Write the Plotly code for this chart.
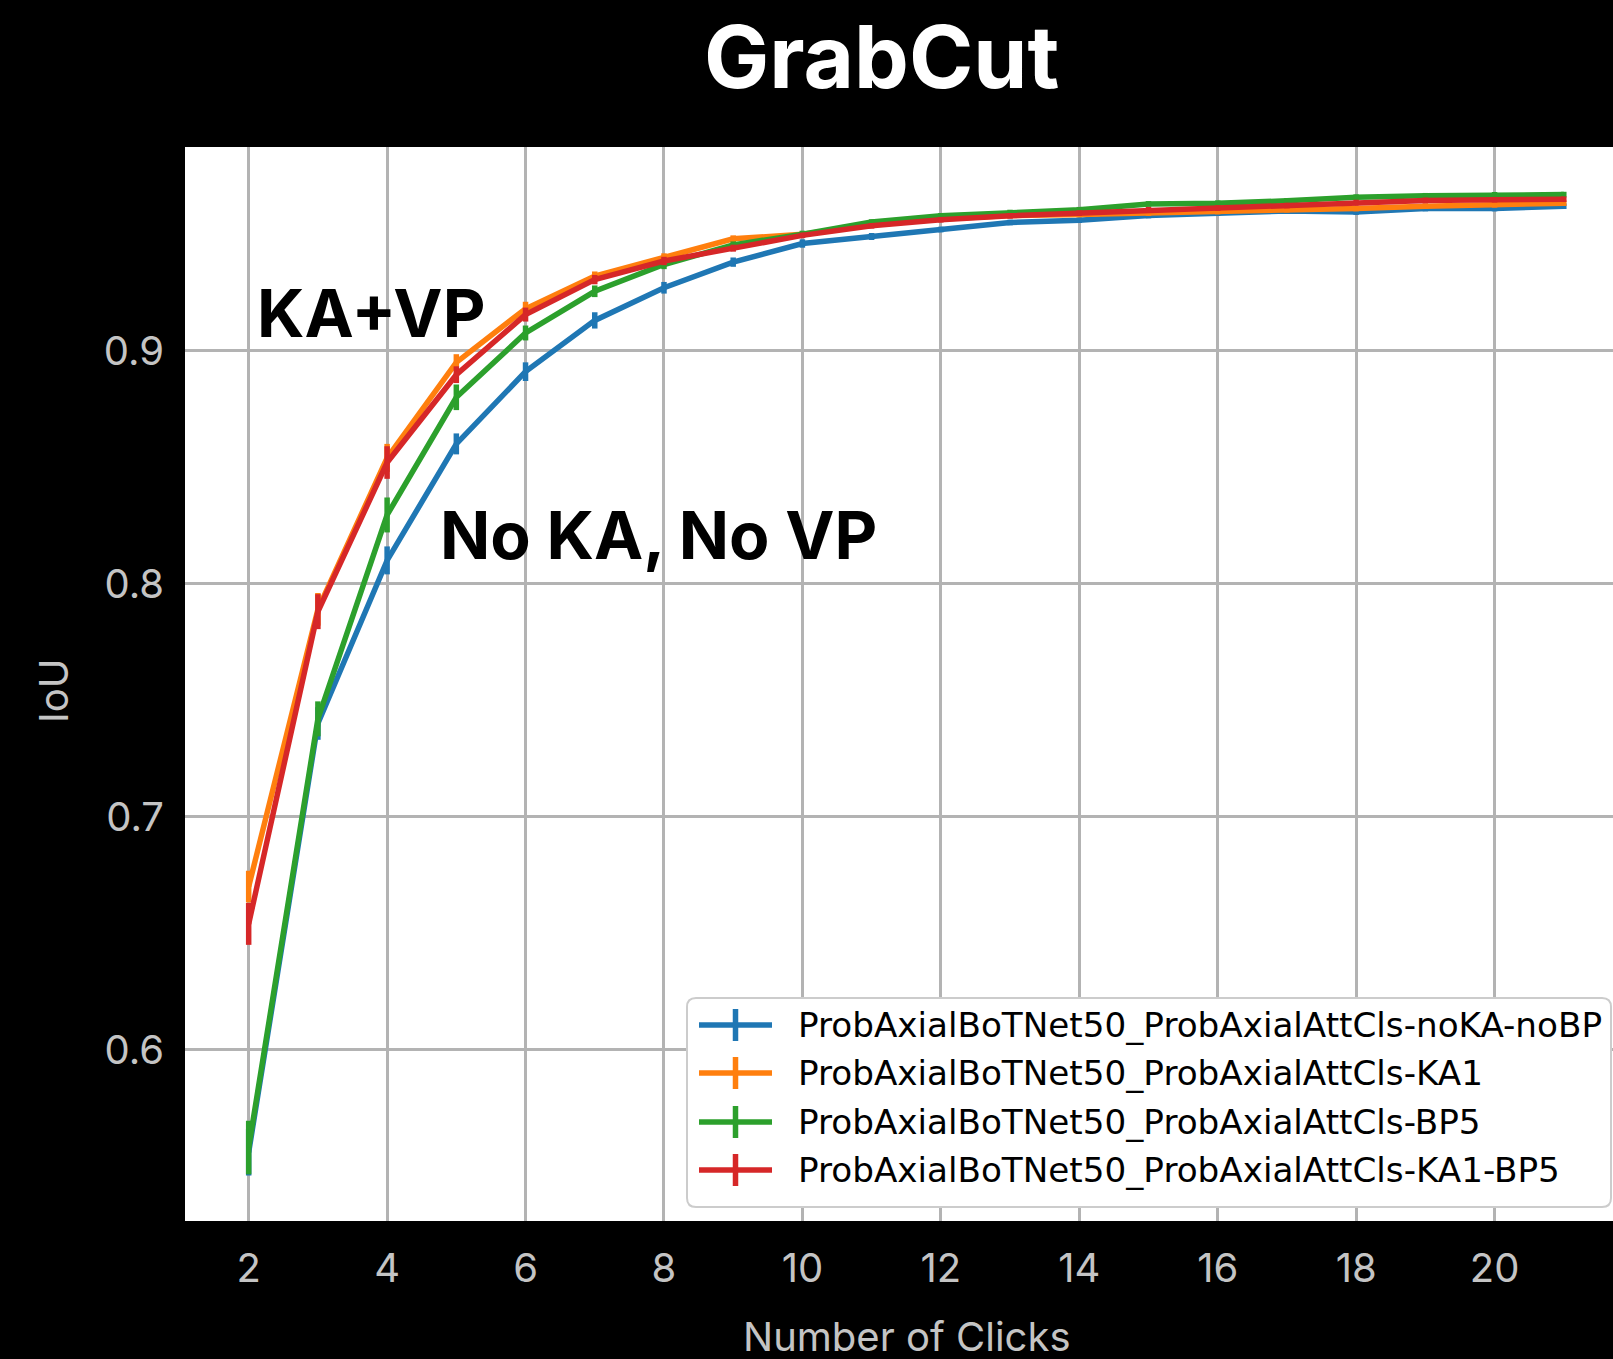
import plotly.graph_objects as go

# ---------------- data ----------------
clicks = list(range(2, 22))

series_names = [
    "ProbAxialBoTNet50_ProbAxialAttCls-noKA-noBP",
    "ProbAxialBoTNet50_ProbAxialAttCls-KA1",
    "ProbAxialBoTNet50_ProbAxialAttCls-BP5",
    "ProbAxialBoTNet50_ProbAxialAttCls-KA1-BP5",
]

iou_noka_nobp = [0.556, 0.740, 0.810, 0.860, 0.891, 0.913, 0.927, 0.938, 0.946, 0.949,
                 0.952, 0.955, 0.956, 0.958, 0.959, 0.960, 0.9595, 0.961, 0.961, 0.962]
iou_ka1 = [0.670, 0.789, 0.854, 0.895, 0.918, 0.932, 0.940, 0.948, 0.950, 0.954,
           0.9565, 0.958, 0.9585, 0.959, 0.9597, 0.9605, 0.961, 0.962, 0.9626, 0.9633]
iou_bp5 = [0.558, 0.742, 0.8295, 0.880, 0.9076, 0.9255, 0.937, 0.9454, 0.950, 0.9552,
           0.9579, 0.9593, 0.9605, 0.963, 0.9633, 0.9643, 0.9659, 0.9665, 0.9669, 0.967]
iou_ka1_bp5 = [0.654, 0.788, 0.852, 0.8897, 0.9155, 0.9305, 0.9385, 0.944, 0.9495, 0.9536,
               0.9562, 0.9579, 0.959, 0.9605, 0.9612, 0.9623, 0.9636, 0.9645, 0.9648, 0.965]

err_noka_nobp = [0.010, 0.007, 0.006, 0.0045, 0.004, 0.0035, 0.0025, 0.002, 0.0018, 0.0015,
                 0.0012, 0.0012, 0.0012, 0.0012, 0.0012, 0.0012, 0.0012, 0.0012, 0.0012, 0.0012]
err_ka1 = [0.0068, 0.007, 0.006, 0.0035, 0.003, 0.002, 0.0018, 0.0015, 0.0012, 0.0012,
           0.0012, 0.0012, 0.0012, 0.0012, 0.0012, 0.0012, 0.0012, 0.0012, 0.0012, 0.0012]
err_bp5 = [0.0115, 0.0075, 0.0075, 0.0055, 0.0032, 0.0025, 0.002, 0.0015, 0.0015, 0.0012,
           0.0012, 0.0012, 0.0012, 0.0012, 0.0012, 0.0012, 0.0012, 0.0012, 0.0012, 0.0012]
err_ka1_bp5 = [0.009, 0.0075, 0.007, 0.0036, 0.003, 0.002, 0.0018, 0.0015, 0.0012, 0.0012,
               0.0012, 0.0012, 0.0012, 0.0012, 0.0012, 0.0012, 0.0012, 0.0012, 0.0012, 0.0012]

colors = ["#1f77b4", "#ff7f0e", "#2ca02c", "#d62728"]

x_ticks = [2, 4, 6, 8, 10, 12, 14, 16, 18, 20]
y_ticks = [0.6, 0.7, 0.8, 0.9]
y_tick_labels = ["0.6", "0.7", "0.8", "0.9"]

title_text = "GrabCut"
x_title = "Number of Clicks"
y_title = "IoU"
note_top = ("KA+VP", 3.77, 0.9161)
note_bottom = ("No KA, No VP", 7.925, 0.8207)

# ---------------- layout geometry ----------------
W, H = 1613, 1359
L, R, T, B = 185, 0, 147, 138
PW, PH = W - L - R, H - T - B


def px(xp):
    return (xp - L) / PW


def py(yp):
    return (H - B - yp) / PH


fig = go.Figure()
all_y = [iou_noka_nobp, iou_ka1, iou_bp5, iou_ka1_bp5]
all_e = [err_noka_nobp, err_ka1, err_bp5, err_ka1_bp5]
for name, ys, es, c in zip(series_names, all_y, all_e, colors):
    fig.add_trace(go.Scatter(
        x=clicks, y=ys, name=name, mode="lines",
        line=dict(color=c, width=5.5),
        error_y=dict(type="data", array=es, visible=True, color=c, thickness=5.5, width=0),
        showlegend=False,
    ))

grid = "#b3b3b3"
tick_font = dict(family="Inter", size=40, color="#c4c4c4")
fig.update_xaxes(
    range=[1.08, 21.711], tickmode="array", tickvals=x_ticks,
    showgrid=True, gridcolor=grid, gridwidth=2.5, zeroline=False, showline=False,
    ticks="outside", ticklen=12, tickcolor="black", tickfont=tick_font,
)
fig.update_yaxes(
    range=[0.52648, 0.98742], tickmode="array", tickvals=y_ticks, ticktext=y_tick_labels,
    showgrid=True, gridcolor=grid, gridwidth=2.5, zeroline=False, showline=False,
    ticks="outside", ticklen=12, tickcolor="black", tickfont=tick_font,
)

annotations = [
    dict(text=f"<b>{title_text}</b>", xref="paper", yref="paper", x=px(881), y=py(57),
         xanchor="center", yanchor="middle", showarrow=False,
         font=dict(family="Inter", size=87, color="white")),
    dict(text=x_title, xref="paper", yref="paper", x=px(907), y=py(1336),
         xanchor="center", yanchor="middle", showarrow=False,
         font=dict(family="Inter", size=40, color="#c4c4c4")),
    dict(text=y_title, xref="paper", yref="paper", x=px(53), y=py(691),
         xanchor="center", yanchor="middle", showarrow=False, textangle=-90,
         font=dict(family="Inter", size=40, color="#c4c4c4")),
    dict(text=f"<b>{note_top[0]}</b>", xref="x", yref="y", x=note_top[1], y=note_top[2],
         xanchor="center", yanchor="middle", showarrow=False,
         font=dict(family="Inter", size=66, color="black")),
    dict(text=f"<b>{note_bottom[0]}</b>", xref="x", yref="y", x=note_bottom[1], y=note_bottom[2],
         xanchor="center", yanchor="middle", showarrow=False,
         font=dict(family="Inter", size=66, color="black")),
]

# ---------------- legend (drawn in pixel-mapped paper coordinates) ----------------
shapes = []
lx0, lx1, ly0, ly1, rr = 687, 1611, 998, 1207, 9
rx, ry = rr / PW, rr / PH
X0, X1, Y0, Y1 = px(lx0), px(lx1), py(ly1), py(ly0)
path = (f"M{X0+rx},{Y0} L{X1-rx},{Y0} Q{X1},{Y0} {X1},{Y0+ry} "
        f"L{X1},{Y1-ry} Q{X1},{Y1} {X1-rx},{Y1} L{X0+rx},{Y1} Q{X0},{Y1} {X0},{Y1-ry} "
        f"L{X0},{Y0+ry} Q{X0},{Y0} {X0+rx},{Y0} Z")
shapes.append(dict(type="path", xref="paper", yref="paper", path=path,
                   fillcolor="white", line=dict(color="#cccccc", width=2), layer="above"))
row_y = [1025, 1073, 1122, 1170]
for name, c, ry_px in zip(series_names, colors, row_y):
    shapes.append(dict(type="line", xref="paper", yref="paper",
                       x0=px(699), x1=px(772), y0=py(ry_px), y1=py(ry_px),
                       line=dict(color=c, width=5.5), layer="above"))
    shapes.append(dict(type="line", xref="paper", yref="paper",
                       x0=px(735.5), x1=px(735.5), y0=py(ry_px - 16), y1=py(ry_px + 16),
                       line=dict(color=c, width=5.5), layer="above"))
    annotations.append(dict(text=name, xref="paper", yref="paper", x=px(796), y=py(ry_px),
                            xanchor="left", yanchor="middle", showarrow=False,
                            font=dict(family="DejaVu Sans", size=34.2, color="black")))

fig.update_layout(
    width=W, height=H,
    margin=dict(l=L, r=R, t=T, b=B, pad=0),
    paper_bgcolor="black", plot_bgcolor="white",
    showlegend=False,
    shapes=shapes, annotations=annotations,
)

fig.write_html("out.html")
